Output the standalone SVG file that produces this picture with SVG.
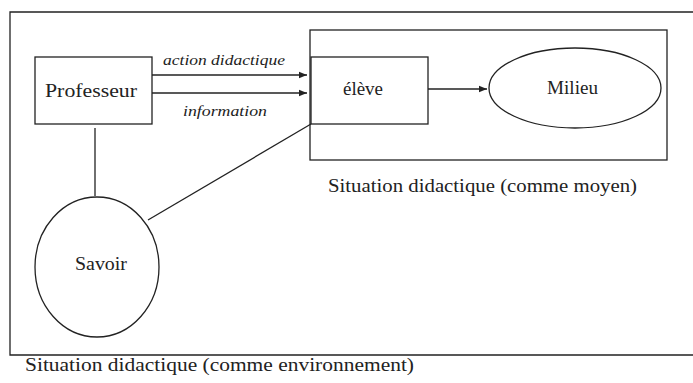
<svg xmlns="http://www.w3.org/2000/svg" width="693" height="383" viewBox="0 0 693 383">
<defs>
<style>
.ln{fill:none;stroke:#222;stroke-width:1.3}
.t{font-family:"Liberation Serif","Times New Roman",serif;font-size:18px;fill:#222}
.i{font-family:"Liberation Serif","Times New Roman",serif;font-size:14px;font-style:italic;fill:#222}
</style>
<marker id="ah" viewBox="0 0 10 10" refX="10" refY="5" markerWidth="8" markerHeight="8" markerUnits="userSpaceOnUse" orient="auto">
<path d="M0,1 L10,5 L0,9 z" fill="#222"/>
</marker>
</defs>
<rect width="693" height="383" fill="#fff"/>
<g id="environnement">
<path class="ln" d="M700,12 H10 V355 H700"/>
<text class="t" x="25" y="371" textLength="389" lengthAdjust="spacingAndGlyphs">Situation didactique (comme environnement)</text>
</g>
<g id="moyen">
<rect class="ln" x="310" y="30" width="357" height="130"/>
<text class="t" x="328" y="192" textLength="309" lengthAdjust="spacingAndGlyphs">Situation didactique (comme moyen)</text>
</g>
<g id="professeur">
<rect class="ln" x="35" y="57" width="117" height="67"/>
<text class="t" x="45" y="97" textLength="92" lengthAdjust="spacingAndGlyphs">Professeur</text>
</g>
<g id="eleve">
<rect class="ln" x="311" y="57" width="117" height="67"/>
<text class="t" x="343" y="95" textLength="40" lengthAdjust="spacingAndGlyphs">élève</text>
</g>
<g id="milieu">
<ellipse class="ln" cx="575" cy="88" rx="86" ry="40"/>
<text class="t" x="547" y="94" textLength="51" lengthAdjust="spacingAndGlyphs">Milieu</text>
</g>
<g id="savoir">
<ellipse class="ln" cx="97" cy="267" rx="62" ry="70"/>
<text class="t" x="75" y="270" textLength="52" lengthAdjust="spacingAndGlyphs">Savoir</text>
</g>
<g id="connectors">
<line class="ln" x1="152" y1="75" x2="307" y2="75" marker-end="url(#ah)"/>
<line class="ln" x1="152" y1="93" x2="307" y2="93" marker-end="url(#ah)"/>
<line class="ln" x1="428" y1="89" x2="487" y2="89" marker-end="url(#ah)"/>
<line class="ln" x1="95" y1="128" x2="95" y2="196"/>
<line class="ln" x1="148" y1="220" x2="311" y2="124"/>
<text class="i" x="163" y="65" textLength="122" lengthAdjust="spacingAndGlyphs">action didactique</text>
<text class="i" x="183" y="116" textLength="84" lengthAdjust="spacingAndGlyphs">information</text>
</g>
</svg>
